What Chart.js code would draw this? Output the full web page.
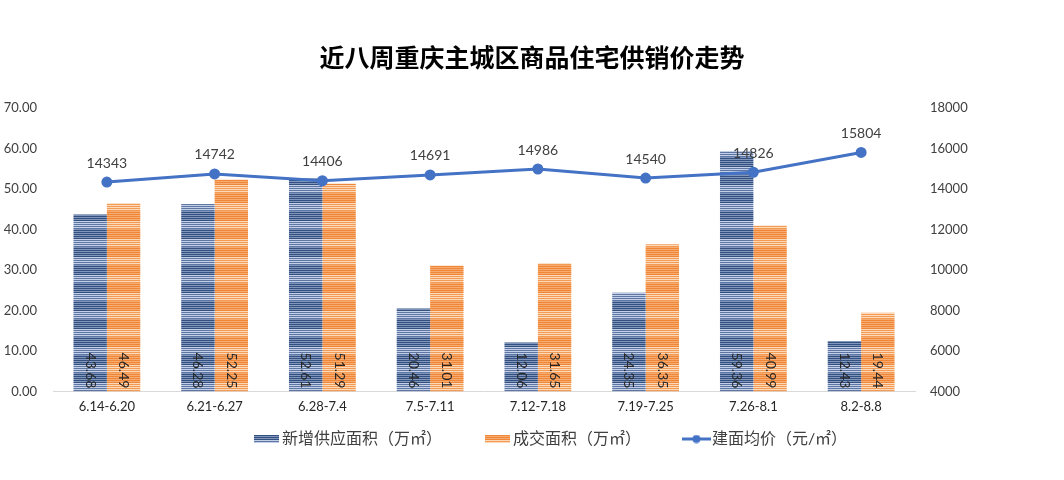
<!DOCTYPE html>
<html>
<head>
<meta charset="utf-8">
<script src="https://cdn.jsdelivr.net/npm/chart.js@4"></script>
<style>
  html, body { margin: 0; padding: 0; background: #fff; }
  #wrap { width: 1064px; height: 480px; }
</style>
</head>
<body>
<div id="wrap"><canvas id="chart" width="1064" height="480"></canvas></div>
<script>
const weeks    = ['6.14-6.20', '6.21-6.27', '6.28-7.4', '7.5-7.11', '7.12-7.18', '7.19-7.25', '7.26-8.1', '8.2-8.8'];
const supply   = [43.68, 46.28, 52.61, 20.46, 12.06, 24.35, 59.36, 12.43];
const sold     = [46.49, 52.25, 51.29, 31.01, 31.65, 36.35, 40.99, 19.44];
const price    = [14343, 14742, 14406, 14691, 14986, 14540, 14826, 15804];

const FONT = "Lato, 'Noto Sans CJK SC', sans-serif";
const LINE_BLUE = '#4472C4';
const GAP = '\u3000\u3000\u3000';   // wide spacing between legend entries

// striped fill, lighter band every 18px like the excel gradient
function stripes(dark, light, mid, darkBand) {
  const c = document.createElement('canvas');
  c.width = 4; c.height = 18;
  const g = c.getContext('2d');
  for (let y = 0; y < 18; y++) {
    const inBand = y > 4 && y < 13;
    let col;
    if (y % 2 === 1) col = inBand ? light : mid;
    else col = inBand ? darkBand : dark;
    g.fillStyle = col;
    g.fillRect(0, y, 4, 1);
  }
  return g.createPattern(c, 'repeat');
}

function swatch(pat) {
  const c = document.createElement('canvas');
  c.width = 25; c.height = 8;
  const g = c.getContext('2d');
  g.fillStyle = pat;
  g.fillRect(0, 0, 25, 8);
  return c;
}

function lineSwatch() {
  const c = document.createElement('canvas');
  c.width = 29; c.height = 9;
  const g = c.getContext('2d');
  g.strokeStyle = LINE_BLUE;
  g.lineWidth = 3;
  g.beginPath(); g.moveTo(0, 4.5); g.lineTo(29, 4.5); g.stroke();
  g.fillStyle = LINE_BLUE;
  g.beginPath(); g.arc(14.5, 4.5, 4, 0, Math.PI * 2); g.fill();
  return c;
}

const ctx0 = document.getElementById('chart').getContext('2d');
const bluePat   = stripes('#34507e', '#c3cfe6', '#8096bd', '#5d76a3');
const orangePat = stripes('#f08637', '#fcd9b8', '#f6ac70', '#f39a55');

const valueLabels = {
  id: 'valueLabels',
  afterDatasetsDraw(chart) {
    const ctx = chart.ctx;
    ctx.save();
    ctx.font = '14px ' + FONT;
    ctx.fillStyle = '#262626';
    [0, 1].forEach(di => {
      chart.getDatasetMeta(di).data.forEach((bar, i) => {
        ctx.save();
        ctx.translate(bar.x, bar.base - 3);
        ctx.rotate(Math.PI / 2);
        ctx.textAlign = 'right';
        ctx.textBaseline = 'middle';
        ctx.fillText(chart.data.datasets[di].data[i].toFixed(2), 0, 0);
        ctx.restore();
      });
    });
    ctx.fillStyle = '#404040';
    ctx.textAlign = 'center';
    ctx.textBaseline = 'bottom';
    chart.getDatasetMeta(2).data.forEach((pt, i) => {
      ctx.fillText(String(price[i]), pt.x, pt.y - 12);
    });
    ctx.restore();
  }
};

// nudge the legend row right, excel centres it a bit off the canvas middle
const legendShift = {
  id: 'legendShift',
  afterLayout(chart) {
    chart.legend.left += 21;
    chart.legend.right += 21;
  }
};

new Chart(ctx0, {
  type: 'bar',
  data: {
    labels: weeks,
    datasets: [
      {
        label: '新增供应面积（万㎡）',
        data: supply,
        backgroundColor: bluePat,
        yAxisID: 'y',
        order: 1,
        categoryPercentage: 0.62,
        barPercentage: 1.0,
      },
      {
        label: '成交面积（万㎡）',
        data: sold,
        backgroundColor: orangePat,
        yAxisID: 'y',
        order: 1,
        categoryPercentage: 0.62,
        barPercentage: 1.0,
      },
      {
        type: 'line',
        label: '建面均价（元/㎡）',
        data: price,
        borderColor: LINE_BLUE,
        backgroundColor: LINE_BLUE,
        borderWidth: 3,
        pointRadius: 4,
        pointBackgroundColor: LINE_BLUE,
        tension: 0,
        yAxisID: 'y1',
        order: 0,
      },
    ],
  },
  options: {
    responsive: false,
    animation: false,
    layout: { padding: { left: 0, right: 0, top: 0, bottom: 23 } },
    plugins: {
      tooltip: { enabled: false },
      title: {
        display: true,
        text: '近八周重庆主城区商品住宅供销价走势',
        color: '#000',
        font: { family: FONT, size: 25, weight: 'bold' },
        padding: { top: 44, bottom: 34 },
      },
      legend: {
        position: 'bottom',
        labels: {
          usePointStyle: true,
          pointStyleWidth: 15,
          padding: 8,
          color: '#404040',
          font: { family: FONT, size: 16 },
          generateLabels(chart) {
            const imgs = [swatch(bluePat), swatch(orangePat), lineSwatch()];
            const n = chart.data.datasets.length;
            return chart.data.datasets.map((ds, i) => ({
              text: ds.label + (i < n - 1 ? GAP : ''),
              pointStyle: imgs[i],
              fillStyle: 'transparent',
              strokeStyle: 'transparent',
              lineWidth: 0,
              fontColor: '#404040',
              datasetIndex: i,
              hidden: false,
            }));
          },
        },
      },
    },
    scales: {
      x: {
        grid: { display: false, drawTicks: false },
        border: { display: true, color: '#d9d9d9', width: 1 },
        ticks: {
          color: '#262626',
          font: { family: FONT, size: 13 },
          maxRotation: 0,
          autoSkip: false,
          padding: 8,
        },
      },
      y: {
        position: 'left',
        min: 0, max: 70,
        grid: { display: false, drawTicks: false },
        border: { display: false },
        ticks: {
          stepSize: 10,
          color: '#404040',
          font: { family: FONT, size: 13 },
          padding: 16,
          callback: v => v.toFixed(2),
        },
        afterFit(s) { s.width = 53; },
      },
      y1: {
        position: 'right',
        min: 4000, max: 18000,
        grid: { display: false, drawTicks: false },
        border: { display: false },
        ticks: {
          stepSize: 2000,
          color: '#404040',
          font: { family: FONT, size: 13 },
          padding: 15,
          callback: v => String(v),
        },
        afterFit(s) { s.width = 149; },
      },
    },
  },
  plugins: [valueLabels, legendShift],
});
</script>
</body>
</html>
